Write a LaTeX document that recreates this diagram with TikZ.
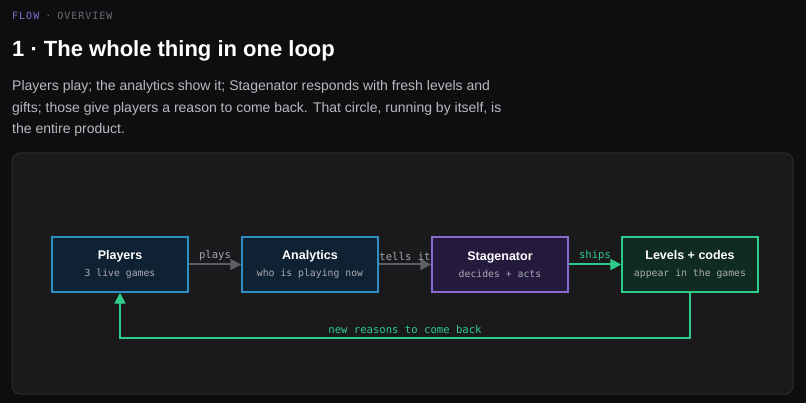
\documentclass[tikz,border=0pt]{standalone}
\usepackage{fontspec}
\setmainfont{Liberation Sans}
\newfontfamily\monofont{DejaVu Sans Mono}
\newfontfamily\spacedmono[LetterSpace=10]{DejaVu Sans Mono}
\usetikzlibrary{positioning,arrows.meta}

\definecolor{pagebg}{HTML}{0E0E10}
\definecolor{panelbg}{HTML}{1A1A1D}
\definecolor{panelline}{HTML}{2B2B30}
\definecolor{flowpurple}{HTML}{7B6FD0}
\definecolor{dimgray}{HTML}{6B6B72}
\definecolor{bodygray}{HTML}{B9B9BF}
\definecolor{subgray}{HTML}{ACACB4}
\definecolor{bluefill}{HTML}{0F2233}
\definecolor{blueline}{HTML}{2F8FC4}
\definecolor{violetfill}{HTML}{231A3E}
\definecolor{violetline}{HTML}{8A6AD0}
\definecolor{greenfill}{HTML}{0F2B22}
\definecolor{greenline}{HTML}{2ECB8A}
\definecolor{arrowgray}{HTML}{5E5E66}
\definecolor{labelgray}{HTML}{A4A4AC}

\begin{document}
\begin{tikzpicture}[x=1pt, y=-1pt, node distance=190pt,
                    main node/.style={rectangle, draw, line width=1.5pt, minimum width=136pt,
                      minimum height=55pt, align=center, text=white, inner sep=0pt,
                      font=\fontsize{10}{17.5}\selectfont},
                    gray link/.style={draw=arrowgray, line width=2pt, -{Triangle[length=11pt,width=11pt]}},
                    green link/.style={draw=greenline, line width=2pt, -{Triangle[length=11pt,width=11pt]}},
                    link label/.style={font=\monofont\fontsize{10.6}{12}\selectfont, inner sep=3pt}]

  % page and panel
  \fill[pagebg] (0,0) rectangle (806,403);
  \useasboundingbox (0,0) rectangle (806,403);
  \draw[panelline, fill=panelbg, line width=1pt, rounded corners=8pt] (12,153) rectangle (793,394);

  % header texts
  \node[anchor=base west, inner sep=0pt, font=\spacedmono\fontsize{10}{12}\selectfont] (kicker) at (12,20)
    {\textcolor{flowpurple}{FLOW}\hspace{6pt}\textcolor{dimgray}{·}\hspace{6pt}\textcolor{dimgray}{OVERVIEW}};
  \node[anchor=base west, inner sep=0pt, text=white, font=\fontsize{22}{26}\selectfont\bfseries] (title) at (12,57)
    {1 · The whole thing in one loop};
  \node[anchor=base west, inner sep=0pt, text=bodygray, font=\fontsize{14}{18}\selectfont] (line1) at (12,91)
    {Players play; the analytics show it; Stagenator responds with fresh levels and};
  \node[anchor=base west, inner sep=0pt, text=bodygray, font=\fontsize{14}{18}\selectfont] (line2) at (12,112.5)
    {gifts; those give players a reason to come back. That circle, running by itself, is};
  \node[anchor=base west, inner sep=0pt, text=bodygray, font=\fontsize{14}{18}\selectfont] (line3) at (12,134)
    {the entire product.};

  % the loop
  \node[main node, draw=blueline, fill=bluefill] (1) at (120,264.5)
    {{\fontsize{12.5}{17.5}\selectfont\bfseries Players}\\{\color{subgray}\monofont\fontsize{9.8}{17.5}\selectfont 3 live games}};
  \node[main node, draw=blueline, fill=bluefill] (2) [right of=1]
    {{\fontsize{12.5}{17.5}\selectfont\bfseries Analytics}\\{\color{subgray}\monofont\fontsize{9.8}{17.5}\selectfont who is playing now}};
  \node[main node, draw=violetline, fill=violetfill] (3) [right of=2]
    {{\fontsize{12.5}{17.5}\selectfont\bfseries Stagenator}\\{\color{subgray}\monofont\fontsize{9.8}{17.5}\selectfont decides + acts}};
  \node[main node, draw=greenline, fill=greenfill] (4) [right of=3]
    {{\fontsize{12.5}{17.5}\selectfont\bfseries Levels + codes}\\{\color{subgray}\monofont\fontsize{9.8}{17.5}\selectfont appear in the games}};

  \path (1) edge[gray link] node[link label, above, text=labelgray] (plays) {plays} (2)
        (2) edge[gray link] node[link label, above, text=labelgray] (tells) {tells it} (3)
        (3) edge[green link] node[link label, above, text=greenline] (ships) {ships} (4);

  \draw[green link] (4.south) -- ++(0,45) -| node[pos=0.25, link label, above, text=greenline] (back)
    {new reasons to come back} (1.south);
\end{tikzpicture}
\end{document}
